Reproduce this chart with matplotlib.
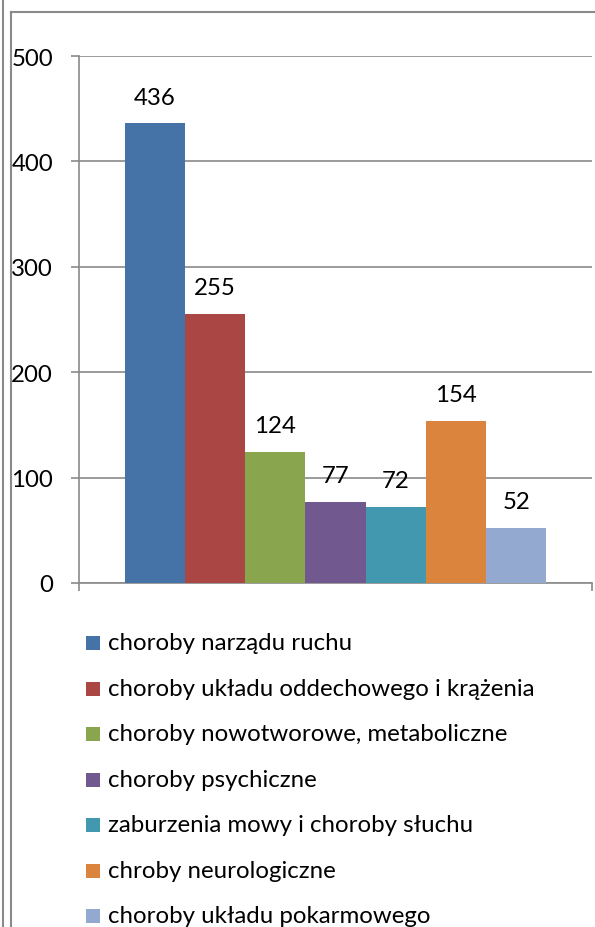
import matplotlib
matplotlib.use("Agg")
import matplotlib.pyplot as plt
from matplotlib.lines import Line2D
from matplotlib.patches import Rectangle

categories = [
    "choroby narządu ruchu",
    "choroby układu oddechowego i krążenia",
    "choroby nowotworowe, metaboliczne",
    "choroby psychiczne",
    "zaburzenia mowy i choroby słuchu",
    "chroby neurologiczne",
    "choroby układu pokarmowego",
]
values = [436, 255, 124, 77, 72, 154, 52]
colors = ["#4572A7", "#AA4643", "#89A54E", "#71588F", "#4198AF", "#DB843D", "#93A9CF"]
yticks = [0, 100, 200, 300, 400, 500]

W, H = 595, 928
FONT = "Lato"
FS = 17.3
GRAY = "#8a8a8a"

fig = plt.figure(figsize=(W / 100, H / 100), dpi=100)
fig.patch.set_facecolor("white")

def fx(px):
    return px / W

def fy(py):
    return 1 - py / H

ax = fig.add_axes([fx(79), fy(584), fx(592) - fx(79), fy(57) - fy(584)])
n = len(values)
xs = list(range(n))
ax.bar(xs, values, width=1.0, color=colors, edgecolor="none", zorder=3)
gap = 0.76
ax.set_xlim(-0.5 - gap, n - 0.5 + gap)
ax.set_ylim(0, 500)
ax.set_yticks(yticks)
ax.set_yticklabels([str(t) for t in yticks], fontfamily=FONT, fontsize=FS)
ax.yaxis.grid(True, color=GRAY, linewidth=1.2, zorder=0)
ax.set_axisbelow(True)
ax.set_xticks([-0.5 - gap, n - 0.5 + gap])
ax.set_xticklabels(["", ""])
ax.tick_params(axis="both", direction="out", length=5.8, width=1.2, color=GRAY)
ax.tick_params(axis="y", pad=13)
for s in ["top", "right"]:
    ax.spines[s].set_visible(False)
for s in ["left", "bottom"]:
    ax.spines[s].set_color(GRAY)
    ax.spines[s].set_linewidth(1.2)

for x, v in zip(xs, values):
    ax.annotate(str(v), (x, v), xytext=(0, 19), textcoords="offset points",
                ha="center", va="center", fontfamily=FONT, fontsize=FS, color="black")

# legend
y0, dy = 644, 45.5
for i, (lab, c) in enumerate(zip(categories, colors)):
    yc = y0 + i * dy
    fig.add_artist(Rectangle((fx(86), fy(yc + 7)), fx(14), fy(yc - 7) - fy(yc + 7),
                             transform=fig.transFigure, facecolor=c, edgecolor="none"))
    fig.text(fx(108), fy(yc), lab, ha="left", va="center", fontfamily=FONT,
             fontsize=FS, color="black")

# outer frame lines
fig.add_artist(Line2D([fx(2.5), fx(2.5)], [0, 1], transform=fig.transFigure, color=GRAY, lw=1.5))
fig.add_artist(Line2D([fx(10.5), fx(10.5)], [0, fy(12.5)], transform=fig.transFigure, color=GRAY, lw=1.5))
fig.add_artist(Line2D([fx(10.5), 1], [fy(12.5), fy(12.5)], transform=fig.transFigure, color=GRAY, lw=1.5))

fig.savefig("out.png", dpi=100)
